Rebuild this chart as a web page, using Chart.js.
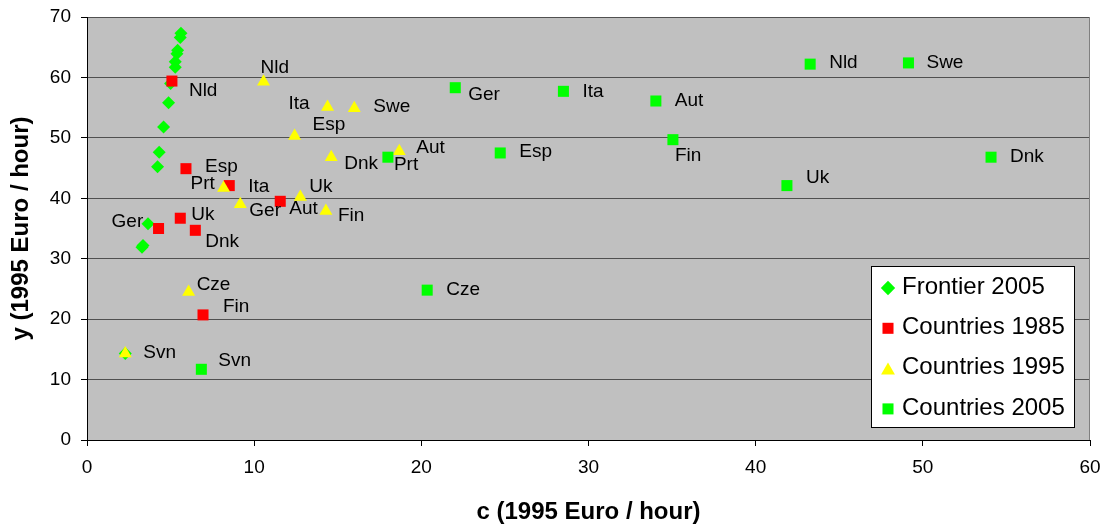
<!DOCTYPE html>
<html>
<head>
<meta charset="utf-8">
<script src="https://cdn.jsdelivr.net/npm/chart.js@4.4.1/dist/chart.umd.min.js"></script>
<style>
  html, body { margin: 0; padding: 0; background: #fff; }
  #chartCanvas { display: block; }
</style>
</head>
<body>
<canvas id="chartCanvas" width="1105" height="529"></canvas>
<script>
// frontier 2005 (no labels)
const frontierC = [5.62, 5.58, 5.42, 5.38, 5.28, 5.28, 5.0, 4.88, 4.58, 4.32, 4.22, 3.65, 3.35, 3.29, 2.29];
const frontierY = [67.3, 66.6, 64.5, 63.9, 62.6, 61.7, 59.0, 55.8, 51.8, 47.6, 45.2, 35.8, 32.2, 31.9, 14.3];

// countries 1985
const names1985 = ['Nld', 'Esp', 'Ita', 'Aut', 'Uk', 'Ger', 'Dnk', 'Fin'];
const c1985 = [5.08, 5.92, 8.51, 11.56, 5.58, 4.28, 6.48, 6.94];
const y1985 = [59.4, 44.9, 42.1, 39.5, 36.7, 35.0, 34.7, 20.7];

// countries 1995
const names1995 = ['Nld', 'Ita', 'Swe', 'Esp', 'Dnk', 'Aut', 'Uk', 'Fin', 'Ger', 'Prt', 'Cze', 'Svn'];
const c1995 = [10.56, 14.39, 15.99, 12.42, 14.61, 18.68, 12.76, 14.29, 9.17, 8.17, 6.08, 2.29];
const y1995 = [59.3, 55.1, 54.9, 50.3, 46.8, 47.8, 40.2, 37.9, 39.0, 41.7, 24.5, 14.3];

// countries 2005
const names2005 = ['Ger', 'Ita', 'Aut', 'Esp', 'Fin', 'Nld', 'Swe', 'Dnk', 'Uk', 'Prt', 'Cze', 'Svn'];
const c2005 = [22.03, 28.5, 34.03, 24.72, 35.05, 43.26, 49.14, 54.08, 41.87, 18.0, 20.35, 6.84];
const y2005 = [58.3, 57.7, 56.1, 47.5, 49.7, 62.2, 62.4, 46.8, 42.1, 46.8, 24.8, 11.7];

const xTicks = [0, 10, 20, 30, 40, 50, 60];
const yTicks = [0, 10, 20, 30, 40, 50, 60, 70];

// label nudges (px from marker to left edge / middle of the text)
const nudge1985 = [[17, 10], [19, -2], [19, 1], [9, 7], [11, -3], [-47, -7], [10, 11], [20, -8]];
const nudge1995 = [[-3, -14], [-39, -3], [19, -1], [18, -11], [13, 7], [17, -3], [9, -10], [12, 5], [9, 6], [-33, -4], [8, -7], [18, -1]];
const nudge2005 = [[13, 7], [19, 0], [19, 0], [19, -1], [2, 16], [19, -1], [18, 0], [19, 0], [19, -8], [6, 8], [19, 0], [17, -9]];

const FONT = '"Liberation Sans", Arial, sans-serif';

function toPoints(xs, ys) {
  const pts = [];
  for (let i = 0; i < xs.length; i++) {
    pts.push({ x: xs[i], y: ys[i] });
  }
  return pts;
}

const datasets = [
  {
    label: 'Frontier 2005',
    data: toPoints(frontierC, frontierY),
    pointStyle: 'rectRot',
    pointRadius: 6.5,
    borderWidth: 0,
    backgroundColor: '#00ff00',
    borderColor: '#00ff00',
    order: 4
  },
  {
    label: 'Countries 1985',
    data: toPoints(c1985, y1985),
    names: names1985,
    nudges: nudge1985,
    pointStyle: 'rect',
    pointRadius: 7.8,
    borderWidth: 0,
    backgroundColor: '#ff0000',
    borderColor: '#ff0000',
    order: 3
  },
  {
    label: 'Countries 1995',
    data: toPoints(c1995, y1995),
    names: names1995,
    nudges: nudge1995,
    pointStyle: 'triangle',
    pointRadius: 7.5,
    borderWidth: 0,
    backgroundColor: '#ffff00',
    borderColor: '#ffff00',
    order: 2
  },
  {
    label: 'Countries 2005',
    data: toPoints(c2005, y2005),
    names: names2005,
    nudges: nudge2005,
    pointStyle: 'rect',
    pointRadius: 7.8,
    borderWidth: 0,
    backgroundColor: '#00ff00',
    borderColor: '#00ff00',
    order: 1
  }
];

// grey plot area + grey right edge
const plotBackground = {
  id: 'plotBackground',
  beforeDraw(chart) {
    const { ctx, chartArea: a } = chart;
    ctx.save();
    ctx.fillStyle = '#c0c0c0';
    ctx.fillRect(a.left, a.top, a.right - a.left, a.bottom - a.top);
    ctx.restore();
  },
  beforeDatasetsDraw(chart) {
    const { ctx, chartArea: a } = chart;
    ctx.save();
    ctx.strokeStyle = '#808080';
    ctx.lineWidth = 1;
    ctx.beginPath();
    ctx.moveTo(a.right - 0.5, a.top);
    ctx.lineTo(a.right - 0.5, a.bottom);
    ctx.stroke();
    ctx.restore();
  }
};

// country names next to the markers
const pointNames = {
  id: 'pointNames',
  afterDatasetsDraw(chart) {
    const ctx = chart.ctx;
    ctx.save();
    ctx.font = '19px ' + FONT;
    ctx.fillStyle = '#000';
    ctx.textAlign = 'left';
    ctx.textBaseline = 'middle';
    chart.data.datasets.forEach((ds, i) => {
      if (!ds.names) return;
      const meta = chart.getDatasetMeta(i);
      meta.data.forEach((pt, j) => {
        const n = ds.nudges[j];
        ctx.fillText(ds.names[j], pt.x + n[0], pt.y + n[1]);
      });
    });
    ctx.restore();
  }
};

// boxed legend inside the plot, bottom right
const boxLegend = {
  id: 'boxLegend',
  afterDraw(chart) {
    const ctx = chart.ctx;
    const bx = 871, by = 266, bw = 203, bh = 161;
    ctx.save();
    ctx.fillStyle = '#fff';
    ctx.fillRect(bx, by, bw, bh);
    ctx.strokeStyle = '#000';
    ctx.lineWidth = 1;
    ctx.strokeRect(bx + 0.5, by + 0.5, bw, bh);
    ctx.font = '24px ' + FONT;
    ctx.textAlign = 'left';
    ctx.textBaseline = 'middle';
    const sizes = { rectRot: 7.2, rect: 7.8, triangle: 8 };
    chart.data.datasets.forEach((ds, i) => {
      const rowY = 288 + i * 40.3;
      ctx.fillStyle = ds.backgroundColor;
      ctx.strokeStyle = ds.borderColor;
      const dy = ds.pointStyle === 'triangle' ? 2 : 0;
      Chart.helpers.drawPoint(ctx, { pointStyle: ds.pointStyle, radius: sizes[ds.pointStyle], borderWidth: 0 }, 888, rowY + dy);
      ctx.fillStyle = '#000';
      ctx.fillText(ds.label, 902, rowY - 1);
    });
    ctx.restore();
  }
};

const ctx = document.getElementById('chartCanvas').getContext('2d');

const chart = new Chart(ctx, {
  type: 'scatter',
  data: { datasets: datasets },
  options: {
    responsive: false,
    animation: false,
    layout: { padding: { left: 0, right: 15, top: 17, bottom: 0 } },
    plugins: {
      legend: { display: false },
      tooltip: { enabled: false }
    },
    scales: {
      x: {
        type: 'linear',
        position: 'bottom',
        min: 0,
        max: 60,
        afterBuildTicks: s => { s.ticks = xTicks.map(v => ({ value: v })); },
        afterFit: s => { s.height = 89; s.paddingLeft = 0; s.paddingRight = 0; },
        ticks: { color: '#000', font: { family: FONT, size: 19 }, padding: 10 },
        grid: { drawOnChartArea: false, drawTicks: true, tickLength: 6, tickColor: '#000' },
        border: { color: '#000', width: 1 },
        title: {
          display: true,
          text: 'c (1995 Euro / hour)',
          color: '#000',
          font: { family: FONT, size: 24, weight: 'bold' },
          padding: { top: 0, bottom: 2 }
        }
      },
      y: {
        type: 'linear',
        position: 'left',
        min: 0,
        max: 70,
        afterBuildTicks: s => { s.ticks = yTicks.map(v => ({ value: v })); },
        afterFit: s => { s.width = 87; s.paddingTop = 0; s.paddingBottom = 0; },
        ticks: { color: '#000', font: { family: FONT, size: 19 }, padding: 10 },
        grid: { color: '#505050', lineWidth: 1, drawTicks: true, tickLength: 6, tickColor: '#000' },
        border: { color: '#000', width: 1 },
        title: {
          display: true,
          text: 'y (1995 Euro / hour)',
          color: '#000',
          font: { family: FONT, size: 24, weight: 'bold' },
          padding: { top: 7, bottom: 0 }
        }
      }
    }
  },
  plugins: [plotBackground, pointNames, boxLegend]
});
</script>
</body>
</html>
